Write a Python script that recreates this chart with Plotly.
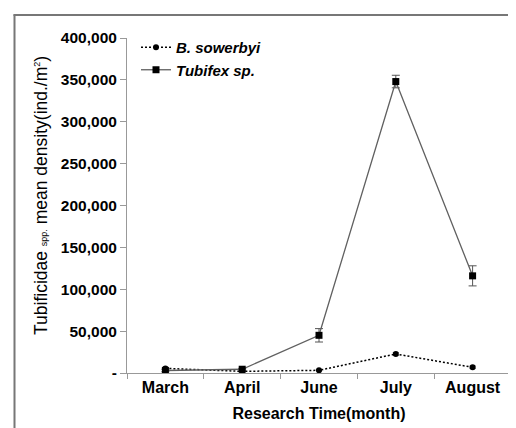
import plotly.graph_objects as go

months = ["March", "April", "June", "July", "August"]
sowerbyi = [5500, 2000, 3200, 22700, 6800]
sowerbyi_err = [1500, 500, 800, 1500, 1500]
tubifex = [3000, 4500, 45000, 348000, 116000]
tubifex_err = [1500, 1000, 8000, 7500, 12000]
y_ticks = [0, 50000, 100000, 150000, 200000, 250000, 300000, 350000, 400000]
y_ticktext = ["-", "50,000", "100,000", "150,000", "200,000", "250,000", "300,000", "350,000", "400,000"]

FONT = "Arial, Liberation Sans, sans-serif"
W, H = 516, 428
L, R, T, B = 119, 13, 30, 63
pw, ph = W - L - R, H - T - B

def px(x):
    return (x - L) / pw

def py(y):
    return (H - B - y) / ph

fig = go.Figure()
fig.add_trace(go.Scatter(
    x=months, y=sowerbyi, name="<b><i>B. sowerbyi</i></b>",
    mode="lines+markers",
    line=dict(color="black", width=1.5, dash="2px,2px"),
    marker=dict(symbol="circle", size=6, color="black"),
    error_y=dict(type="data", array=sowerbyi_err, color="#555", thickness=1, width=3),
))
fig.add_trace(go.Scatter(
    x=months, y=tubifex, name="<b><i>Tubifex sp.</i></b>",
    mode="lines+markers",
    line=dict(color="#606060", width=1.3),
    marker=dict(symbol="square", size=7, color="black"),
    error_y=dict(type="data", array=tubifex_err, color="#555", thickness=1, width=4),
))

fig.update_layout(
    width=W, height=H,
    margin=dict(l=L, r=R, t=T, b=B),
    paper_bgcolor="white", plot_bgcolor="white",
    font=dict(family=FONT, color="black"),
    showlegend=True,
    legend=dict(x=px(128), y=py(23), xanchor="left", yanchor="top",
                bgcolor="rgba(0,0,0,0)", font=dict(size=15, family=FONT),
                tracegroupgap=2, itemwidth=30),
    xaxis=dict(
        type="category", showgrid=False, zeroline=False,
        showline=True, linecolor="#999", linewidth=1,
        ticks="outside", ticklen=5, tickcolor="#999", tickson="boundaries",
        tickvals=months, ticktext=["<b>%s</b>" % m for m in months],
        tickfont=dict(size=16, family=FONT), range=[-0.5, 4.5],
        title=dict(text="<b>Research Time(month)</b>", font=dict(size=16, family=FONT), standoff=12),
    ),
    yaxis=dict(
        range=[0, 400000], showgrid=False, zeroline=False,
        showline=True, linecolor="#999", linewidth=1,
        ticks="outside", ticklen=6, tickcolor="#999",
        tickvals=y_ticks, ticktext=["<b>%s</b>" % t for t in y_ticktext],
        tickfont=dict(size=15.5, family=FONT),
    ),
)

fig.add_annotation(
    xref="paper", yref="paper", x=px(33), y=py(188), textangle=-90,
    text="Tubificidae <span style='font-size:9px'>spp.</span> mean density(ind./m<sup><span style='font-size:9px'>2</span></sup>)",
    showarrow=False, font=dict(size=17.5, family=FONT, color="black"),
    xanchor="center", yanchor="middle",
)

# outer frame (left and top edges)
fig.add_shape(type="line", xref="paper", yref="paper",
              x0=px(6.5), x1=px(6.5), y0=py(6.5), y1=py(440),
              line=dict(color="#777", width=2))
fig.add_shape(type="line", xref="paper", yref="paper",
              x0=px(5.5), x1=px(530), y0=py(7), y1=py(7),
              line=dict(color="#777", width=2))

fig.write_html("out.html")
